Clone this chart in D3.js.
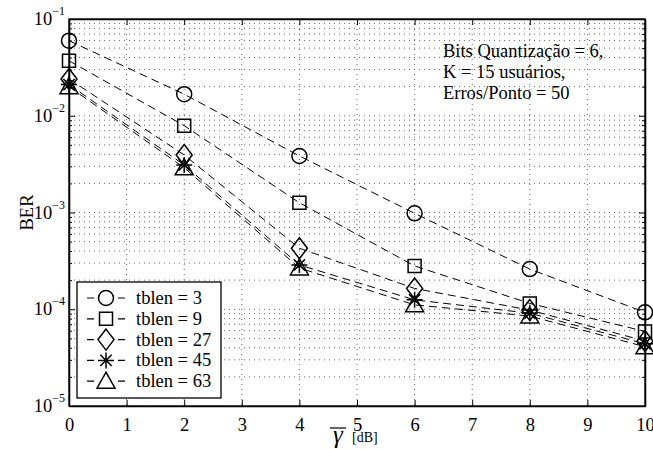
<!DOCTYPE html>
<html>
<head>
<meta charset="utf-8">
<script src="https://cdn.jsdelivr.net/npm/d3@7"></script>
<style>
  body { margin: 0; background: #fff; }
  svg text { font-family: "Liberation Serif", "Times New Roman", serif; fill: #000; }
</style>
</head>
<body>
<div class="canvas"></div>
<script>
// Data
const snr = [0, 2, 4, 6, 8, 10];
const xTicks = [0, 1, 2, 3, 4, 5, 6, 7, 8, 9, 10];
const yDecades = [-1, -2, -3, -4, -5];

const ber3  = [0.0597, 0.0167, 0.00384, 0.00098, 0.00026, 9.3e-5];
const ber9  = [0.037, 0.00789, 0.00126, 0.00028, 0.000115, 5.9e-5];
const ber27 = [0.024, 0.00393, 0.000427, 0.000164, 9.8e-5, 4.7e-5];
const ber45 = [0.021, 0.0031, 0.000287, 0.000125, 9.1e-5, 4.4e-5];
const ber63 = [0.020, 0.0029, 0.000267, 0.000111, 8.5e-5, 4.1e-5];

const seriesNames = ["tblen = 3", "tblen = 9", "tblen = 27", "tblen = 45", "tblen = 63"];
const markers = ["circle", "square", "diamond", "star", "triangle"];
const annotation = ["Bits Quantização = 6,", "K = 15 usuários,", "Erros/Ponto = 50"];

const series = [ber3, ber9, ber27, ber45, ber63].map((vals, i) => ({
    name: seriesNames[i],
    marker: markers[i],
    values: vals.map((v, j) => ({x: snr[j], y: v}))
}));

// dimensions
const W = 653, H = 449;
const margin = {top: 19, right: 8, bottom: 43, left: 69};
const width = W - margin.left - margin.right;
const height = H - margin.top - margin.bottom;

const svg = d3.select(".canvas")
    .append("svg")
        .attr("width", W)
        .attr("height", H)
    .append("g")
        .attr("transform", `translate(${margin.left}, ${margin.top})`);

const x = d3.scaleLinear().domain([0, 10]).range([0, width]);
const y = d3.scaleLog().domain([1e-5, 1e-1]).range([height, 0]);

// minor y values 2..9 per decade
const minorY = [];
for (let k = -5; k < -1 + 0.5; k++) {
    for (let m = 1; m <= 9; m++) {
        const v = m * Math.pow(10, k);
        if (v > 1e-5 && v < 1e-1 && m !== 1) minorY.push(v);
    }
}
const majorY = yDecades.map(d => Math.pow(10, d));

// grid lines (dotted)
svg.selectAll(".xGrid")
    .data(xTicks.slice(1, -1))
    .join("line")
    .attr("x1", d => x(d)).attr("x2", d => x(d))
    .attr("y1", 0).attr("y2", height)
    .attr("stroke", "#666")
    .attr("stroke-dasharray", "1,4");

svg.selectAll(".yGrid")
    .data(minorY.concat(majorY.slice(1, -1)))
    .join("line")
    .attr("x1", 0).attr("x2", width)
    .attr("y1", d => y(d)).attr("y2", d => y(d))
    .attr("stroke", "#666")
    .attr("stroke-dasharray", "1,4");

// axes with inward ticks
const axB = svg.append("g").attr("transform", `translate(0,${height})`)
    .call(d3.axisBottom(x).tickValues(xTicks).tickSizeInner(-6).tickSizeOuter(0).tickPadding(12).tickFormat(d3.format("d")));
svg.append("g")
    .call(d3.axisTop(x).tickValues(xTicks).tickSizeInner(-6).tickSizeOuter(0).tickFormat(""));
svg.append("g")
    .call(d3.axisLeft(y).tickValues(majorY).tickSizeInner(-6).tickSizeOuter(0).tickFormat(""));
svg.append("g").attr("transform", `translate(${width},0)`)
    .call(d3.axisRight(y).tickValues(majorY).tickSizeInner(-6).tickSizeOuter(0).tickFormat(""));
svg.append("g").call(d3.axisLeft(y).tickValues(minorY).tickSizeInner(-3).tickSizeOuter(0).tickFormat(""));
svg.append("g").attr("transform", `translate(${width},0)`)
    .call(d3.axisRight(y).tickValues(minorY).tickSizeInner(-3).tickSizeOuter(0).tickFormat(""));

svg.selectAll(".domain").attr("stroke", "#000").attr("stroke-width", 1.3);
svg.selectAll(".tick line").attr("stroke", "#000");
axB.selectAll(".tick text").style("font-size", "18.5px").style("font-family", "Liberation Serif");

// y tick labels as 10^k
const yl = svg.selectAll(".ylab")
    .data(yDecades)
    .join("text")
    .attr("x", -4)
    .attr("y", d => y(Math.pow(10, d)) + 6)
    .attr("text-anchor", "end")
    .style("font-size", "18.5px");
yl.append("tspan").text("10");
yl.append("tspan").attr("dy", -10).style("font-size", "12px").text(d => "\u2212" + (-d));

// box
svg.append("rect")
    .attr("width", width).attr("height", height)
    .attr("fill", "none").attr("stroke", "#000").attr("stroke-width", 1.3);

// marker shapes
function markerPath(type, cx, cy) {
    switch (type) {
        case "circle": {
            const p = d3.path(); p.moveTo(cx + 7.5, cy); p.arc(cx, cy, 7.5, 0, 2 * Math.PI); return p.toString();
        }
        case "square":
            return `M${cx-6.5},${cy-6.5}h13v13h-13Z`;
        case "diamond":
            return `M${cx},${cy-10.5}L${cx+8},${cy}L${cx},${cy+10.5}L${cx-8},${cy}Z`;
        case "triangle":
            return `M${cx},${cy-9}L${cx+9},${cy+7}L${cx-9},${cy+7}Z`;
        case "star": {
            const r = 8, q = r * Math.SQRT1_2;
            return `M${cx-r},${cy}L${cx+r},${cy}M${cx},${cy-r}L${cx},${cy+r}` +
                   `M${cx-q},${cy-q}L${cx+q},${cy+q}M${cx-q},${cy+q}L${cx+q},${cy-q}`;
        }
    }
}

const line = d3.line().x(d => x(d.x)).y(d => y(d.y));

// lines
svg.selectAll(".series")
    .data(series)
    .join("path")
    .attr("d", d => line(d.values))
    .attr("fill", "none")
    .attr("stroke", "#000")
    .attr("stroke-width", 1)
    .attr("stroke-dasharray", "8,5");

// markers
series.forEach(s => {
    svg.selectAll(null)
        .data(s.values)
        .join("path")
        .attr("d", d => markerPath(s.marker, x(d.x), y(d.y)))
        .attr("fill", "none")
        .attr("stroke", "#000")
        .attr("stroke-width", 1.5);
});

// annotation
svg.append("text")
    .attr("x", 443 - margin.left)
    .attr("y", 57 - margin.top)
    .style("font-size", "18.5px")
    .selectAll("tspan")
    .data(annotation)
    .join("tspan")
    .attr("x", 443 - margin.left)
    .attr("dy", (d, i) => i === 0 ? 0 : 21)
    .text(d => d);

// legend
const lg = svg.append("g").attr("transform", `translate(${77 - margin.left}, ${282 - margin.top})`);
lg.append("rect")
    .attr("width", 144).attr("height", 116)
    .attr("fill", "#fff").attr("stroke", "#000").attr("stroke-width", 1.3);
const rows = lg.selectAll(".row")
    .data(series)
    .join("g")
    .attr("transform", (d, i) => `translate(0, ${16 + i * 20.8})`);
rows.append("path")
    .attr("d", "M10,0H17M41,0H48")
    .attr("stroke", "#000").attr("stroke-width", 1.2);
rows.append("path")
    .attr("d", d => markerPath(d.marker, 29, 0))
    .attr("fill", "none").attr("stroke", "#000").attr("stroke-width", 1.5);
rows.append("text")
    .attr("x", 59).attr("y", 6)
    .style("font-size", "18.5px")
    .text(d => d.name);

// y label
svg.append("text")
    .attr("transform", `translate(${33 - margin.left}, ${height / 2}) rotate(-90)`)
    .attr("text-anchor", "middle")
    .style("font-size", "18.5px")
    .text("BER");

// x label: gamma bar [dB]
const xl = svg.append("g").attr("transform", `translate(0, ${-margin.top})`);
xl.append("text")
    .attr("x", 338 - margin.left).attr("y", 443)
    .attr("text-anchor", "middle")
    .style("font-size", "25px")
    .style("font-style", "italic")
    .text("\u03b3");
xl.append("line")
    .attr("x1", 330 - margin.left).attr("x2", 346 - margin.left)
    .attr("y1", 428).attr("y2", 428)
    .attr("stroke", "#000").attr("stroke-width", 1.2);
xl.append("text")
    .attr("x", 352 - margin.left).attr("y", 442)
    .style("font-size", "14px")
    .text("[dB]");
</script>
</body>
</html>
